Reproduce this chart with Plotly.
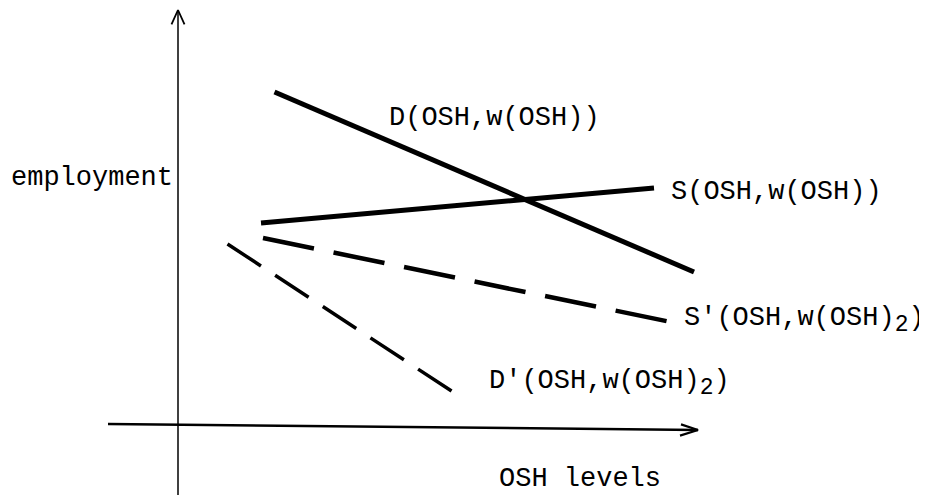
import plotly.graph_objects as go

# Data coordinates: x = OSH level, y = employment (origin at the axes crossing)
d_x = [1.93, 10.32]
d_y = [8.35, 3.85]
s_x = [1.66, 9.52]
s_y = [5.075, 5.95]
s2_x = [1.7, 9.86]
s2_y = [4.7, 2.6]
d2_x = [0.99, 5.59]
d2_y = [4.55, 0.775]

xaxis_line_x = [-1.4, 10.4]
xaxis_line_y = [0.05, -0.1]
yaxis_line_x = [0.0, 0.0]
yaxis_line_y = [-1.9, 10.4]

SUB2 = "<sub><span style='font-size:23px'>2</span></sub>"
labels = ["D(OSH,w(OSH))", "S(OSH,w(OSH))", "S'(OSH,w(OSH)" + SUB2 + ")",
          "D'(OSH,w(OSH)" + SUB2 + ")", "OSH levels"]
label_x = [4.18, 9.82, 10.08, 6.18, 6.38]
label_y = [7.7, 5.85, 2.65, 1.075, -1.325]

FONT = "Liberation Mono, Courier New, monospace"
FS = 27

fig = go.Figure()
fig.add_trace(go.Scatter(x=yaxis_line_x, y=yaxis_line_y, mode="lines",
                         line=dict(color="black", width=1.5), hoverinfo="skip"))
fig.add_trace(go.Scatter(x=xaxis_line_x, y=xaxis_line_y, mode="lines",
                         line=dict(color="black", width=2.5), hoverinfo="skip"))
fig.add_trace(go.Scatter(x=d_x, y=d_y, mode="lines",
                         line=dict(color="black", width=5)))
fig.add_trace(go.Scatter(x=s_x, y=s_y, mode="lines",
                         line=dict(color="black", width=5)))
fig.add_trace(go.Scatter(x=s2_x, y=s2_y, mode="lines",
                         line=dict(color="black", width=4.5, dash="52px,20px")))
fig.add_trace(go.Scatter(x=d2_x, y=d2_y, mode="lines",
                         line=dict(color="black", width=3.5, dash="40px,17px")))

# chevron arrowheads at the axis ends
ytip_x, ytip_y = yaxis_line_x[-1], yaxis_line_y[-1]
fig.add_trace(go.Scatter(x=[ytip_x - 0.13, ytip_x, ytip_x + 0.13],
                         y=[ytip_y - 0.36, ytip_y, ytip_y - 0.36], mode="lines",
                         line=dict(color="black", width=1.8), hoverinfo="skip"))
xtip_x, xtip_y = xaxis_line_x[-1], xaxis_line_y[-1]
fig.add_trace(go.Scatter(x=[xtip_x - 0.34, xtip_x, xtip_x - 0.36],
                         y=[xtip_y + 0.14, xtip_y, xtip_y - 0.14], mode="lines",
                         line=dict(color="black", width=2.2), hoverinfo="skip"))

for t, x, y in zip(labels, label_x, label_y):
    fig.add_annotation(x=x, y=y, text=t, showarrow=False, xanchor="left",
                       yanchor="middle", font=dict(family=FONT, size=FS, color="black"))

fig.add_annotation(x=-0.06, y=6.2, text="employment", showarrow=False,
                   xanchor="right", yanchor="middle",
                   font=dict(family=FONT, size=FS, color="black"))

fig.update_layout(
    width=919, height=487, margin=dict(l=0, r=0, t=0, b=0),
    paper_bgcolor="white", plot_bgcolor="white", showlegend=False,
    xaxis=dict(range=[-3.4, 14.98], visible=False, fixedrange=True),
    yaxis=dict(range=[-1.725, 10.45], visible=False, fixedrange=True),
)
fig.write_html("out.html")
